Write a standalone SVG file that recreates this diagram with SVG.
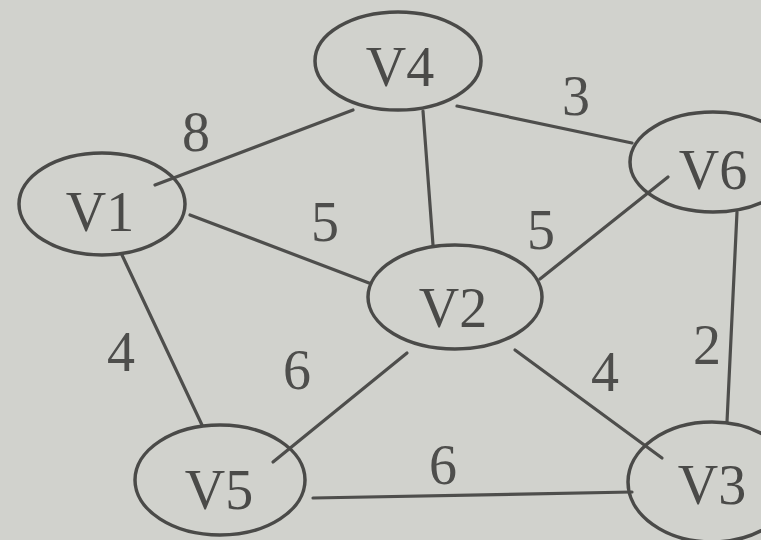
<svg xmlns="http://www.w3.org/2000/svg" width="761" height="540" viewBox="0 0 761 540">
<style>
.n ellipse{fill:none;stroke:#4a4a48;stroke-width:3.5}
.n text{font-family:"Liberation Serif","Times New Roman",serif;font-size:56px;fill:#4a4a48;text-anchor:middle}
.e line{stroke:#4e4e4c;stroke-width:3.2;stroke-linecap:round}
.w{font-family:"Liberation Serif","Times New Roman",serif;font-size:56px;fill:#4e4e4c;text-anchor:middle}
</style>
<rect width="761" height="540" fill="#d1d2cd"/>
<g class="e" id="edges">
<line x1="155" y1="185" x2="353" y2="110"/>
<line x1="423" y1="111" x2="433" y2="245"/>
<line x1="457" y1="106" x2="632" y2="143" stroke="#6a6a68"/>
<line x1="190" y1="215" x2="369" y2="283"/>
<line x1="540" y1="279" x2="668" y2="177"/>
<line x1="737" y1="212" x2="727" y2="422"/>
<line x1="122" y1="255" x2="202" y2="425"/>
<line x1="407" y1="353" x2="273" y2="462"/>
<line x1="515" y1="350" x2="662" y2="458"/>
<line x1="313" y1="498" x2="632" y2="492"/>
</g>
<g id="V4" class="n"><ellipse cx="398" cy="61" rx="83" ry="49" stroke="#5c5c5a"/><text x="400" y="86">V4</text></g>
<g id="V1" class="n"><ellipse cx="102" cy="204" rx="83" ry="51"/><text x="100" y="231">V1</text></g>
<g id="V6" class="n"><ellipse cx="713" cy="162" rx="83" ry="50" stroke="#5c5c5a"/><text x="713" y="189" fill="#5a5a58">V6</text></g>
<g id="V2" class="n"><ellipse cx="455" cy="297" rx="87" ry="52"/><text x="453" y="327">V2</text></g>
<g id="V5" class="n"><ellipse cx="220" cy="480" rx="85" ry="55"/><text x="219" y="509">V5</text></g>
<g id="V3" class="n"><ellipse cx="712" cy="482" rx="84" ry="60"/><text x="712" y="504">V3</text></g>
<g id="labels">
<text class="w" x="196" y="151">8</text>
<text class="w" x="576" y="115" fill="#666664">3</text>
<text class="w" x="325" y="241">5</text>
<text class="w" x="541" y="249">5</text>
<text class="w" x="121" y="371">4</text>
<text class="w" x="297" y="389">6</text>
<text class="w" x="605" y="391">4</text>
<text class="w" x="707" y="364">2</text>
<text class="w" x="443" y="484">6</text>
</g>
</svg>
